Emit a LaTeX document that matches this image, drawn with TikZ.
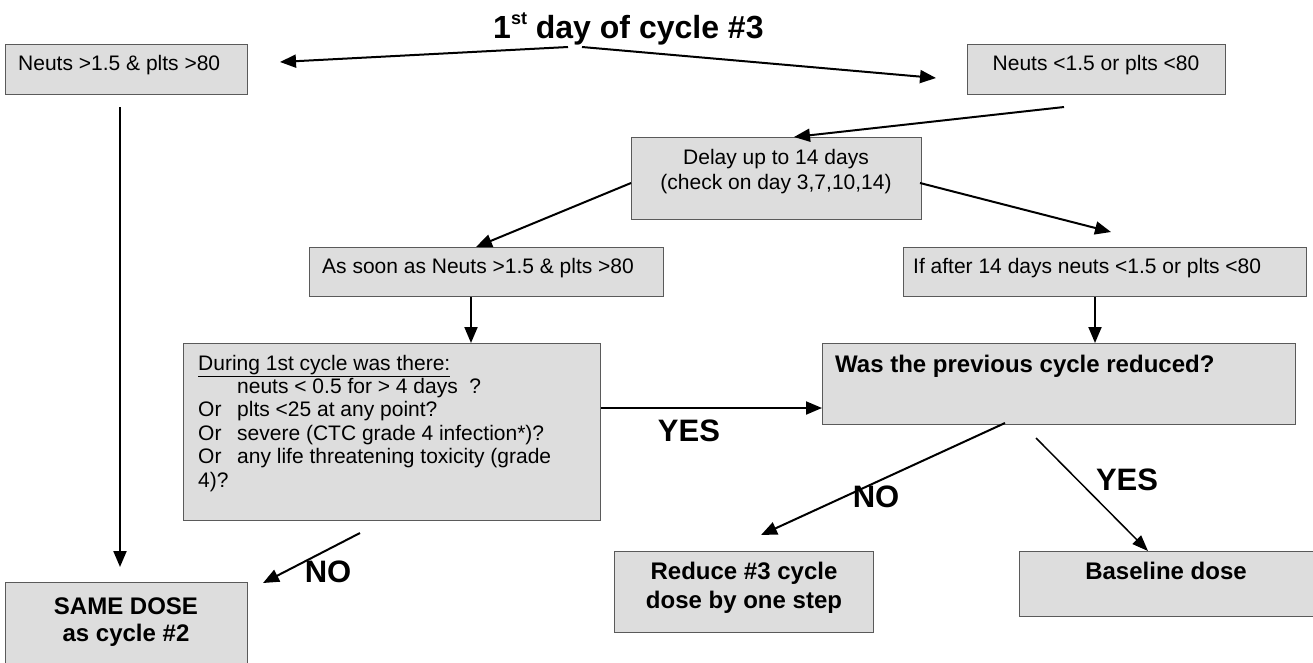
\documentclass[tikz,border=0pt]{standalone}
\usepackage{fontspec}
\setmainfont{Liberation Sans}
\usetikzlibrary{arrows.meta,calc}
\definecolor{boxfill}{HTML}{DDDDDD}
\definecolor{boxline}{HTML}{5A5A5A}
\begin{document}
\begin{tikzpicture}[x=1pt,y=-1pt,
 box/.style={draw=boxline, line width=1pt, fill=boxfill, inner sep=0pt, anchor=north west},
 txt/.style={inner sep=0pt, font=\fontsize{21}{24}\selectfont, anchor=base west},
 ctxt/.style={txt, anchor=base},
 btxt/.style={inner sep=0pt, font=\fontsize{24}{28}\selectfont\bfseries, anchor=base},
 bltxt/.style={btxt, anchor=base west},
 lbl/.style={inner sep=0pt, font=\fontsize{31}{36}\selectfont\bfseries},
 arr/.style={line width=2pt, -{Triangle[length=16pt,width=13pt]}},
 thinarr/.style={line width=1.5pt, -{Triangle[length=16pt,width=12pt]}}]
\useasboundingbox (0,0) rectangle (1313,662);

% boxes
\node[box, minimum width=242pt, minimum height=50pt] (a) at (5,44) {};
\node[box, minimum width=258pt, minimum height=50pt] (b) at (967,44) {};
\node[box, minimum width=290pt, minimum height=82pt] (delay) at (631,137) {};
\node[box, minimum width=354pt, minimum height=49pt] (asoon) at (309,247) {};
\node[box, minimum width=403pt, minimum height=49pt] (ifafter) at (903,247) {};
\node[box, minimum width=417pt, minimum height=177pt] (during) at (183,343) {};
\node[box, minimum width=473pt, minimum height=81pt] (was) at (822,343) {};
\node[box, minimum width=242pt, minimum height=84pt] (same) at (5,582) {};
\node[box, minimum width=259pt, minimum height=81pt] (reduce) at (614,551) {};
\node[box, minimum width=296pt, minimum height=65pt] (base) at (1019,551) {};

% title
\node[lbl, anchor=base west, font=\fontsize{32}{36}\selectfont\bfseries] (title) at (493,38) {1\raisebox{0.42em}{\fontsize{18}{18}\selectfont st} day of cycle \#3};

% texts
\node[txt] (ta) at (18,70) {Neuts >1.5 \& plts >80};
\node[ctxt] (tb) at (1096,70) {Neuts <1.5 or plts <80};
\node[ctxt] (td1) at (776,164) {Delay up to 14 days};
\node[ctxt] (td2) at (776,189) {(check on day 3,7,10,14)};
\node[txt] (tas) at (322,273) {As soon as Neuts >1.5 \& plts >80};
\node[txt] (tif) at (913,273) {If after 14 days neuts <1.5 or plts <80};
\node[txt] (du1) at (198,370) {\underline{During 1st cycle was there:}};
\node[txt] (du2) at (237,393.4) {neuts < 0.5 for > 4 days\ \ ?};
\node[txt] (du3) at (198,416.8) {\makebox[39pt][l]{Or}plts <25 at any point?};
\node[txt] (du4) at (198,440.2) {\makebox[39pt][l]{Or}severe (CTC grade 4 infection*)?};
\node[txt] (du5) at (198,463.6) {\makebox[39pt][l]{Or}any life threatening toxicity (grade};
\node[txt] (du6) at (198,487) {4)?};
\node[bltxt] (twas) at (835,372) {Was the previous cycle reduced?};
\node[btxt] (ts1) at (126,614) {SAME DOSE};
\node[btxt] (ts2) at (126,641) {as cycle \#2};
\node[btxt] (tr1) at (744,579) {Reduce \#3 cycle};
\node[btxt] (tr2) at (744,608) {dose by one step};
\node[btxt] (tbase) at (1166,579) {Baseline dose};

% labels
\node[lbl] (yes1) at (689,431) {YES};
\node[lbl] (no1) at (328,572) {NO};
\node[lbl] (no2) at (876,497) {NO};
\node[lbl] (yes2) at (1127,480) {YES};

% connector end points
\coordinate (tl) at (568,47);
\coordinate (tr) at (582,47);
\coordinate (atip) at (280,62);
\coordinate (btip) at (936,78);
\coordinate (bout) at (1064,107);
\coordinate (din) at (794,137);
\coordinate (dr) at (920,183);
\coordinate (iftip) at (1111,232);
\coordinate (dl) at (631,183);
\coordinate (astip) at (476,247);
\coordinate (adown) at (120,107);
\coordinate (sametip) at (120,567);
\coordinate (durno) at (360,533);
\coordinate (notip) at (263,583);
\coordinate (wasno) at (1005,423);
\coordinate (redtip) at (761,535);
\coordinate (wasyes) at (1036,438);
\coordinate (basetip) at (1148,551);

% connectors
\draw[arr] (tl) -- (atip);
\draw[arr] (tr) -- (btip);
\draw[arr] (bout) -- (din);
\draw[arr] (dr) -- (iftip);
\draw[arr] (dl) -- (astip);
\draw[arr] (adown) -- (sametip);
\draw[arr] (asoon.south -| 471,0) -- (during.north -| 471,0);
\draw[arr] (ifafter.south -| 1095,0) -- (was.north -| 1095,0);
\draw[arr] (during.east |- 0,408) -- (was.west |- 0,408);
\draw[arr] (durno) -- (notip);
\draw[arr] (wasno) -- (redtip);
\draw[thinarr] (wasyes) -- (basetip);
\end{tikzpicture}
\end{document}
